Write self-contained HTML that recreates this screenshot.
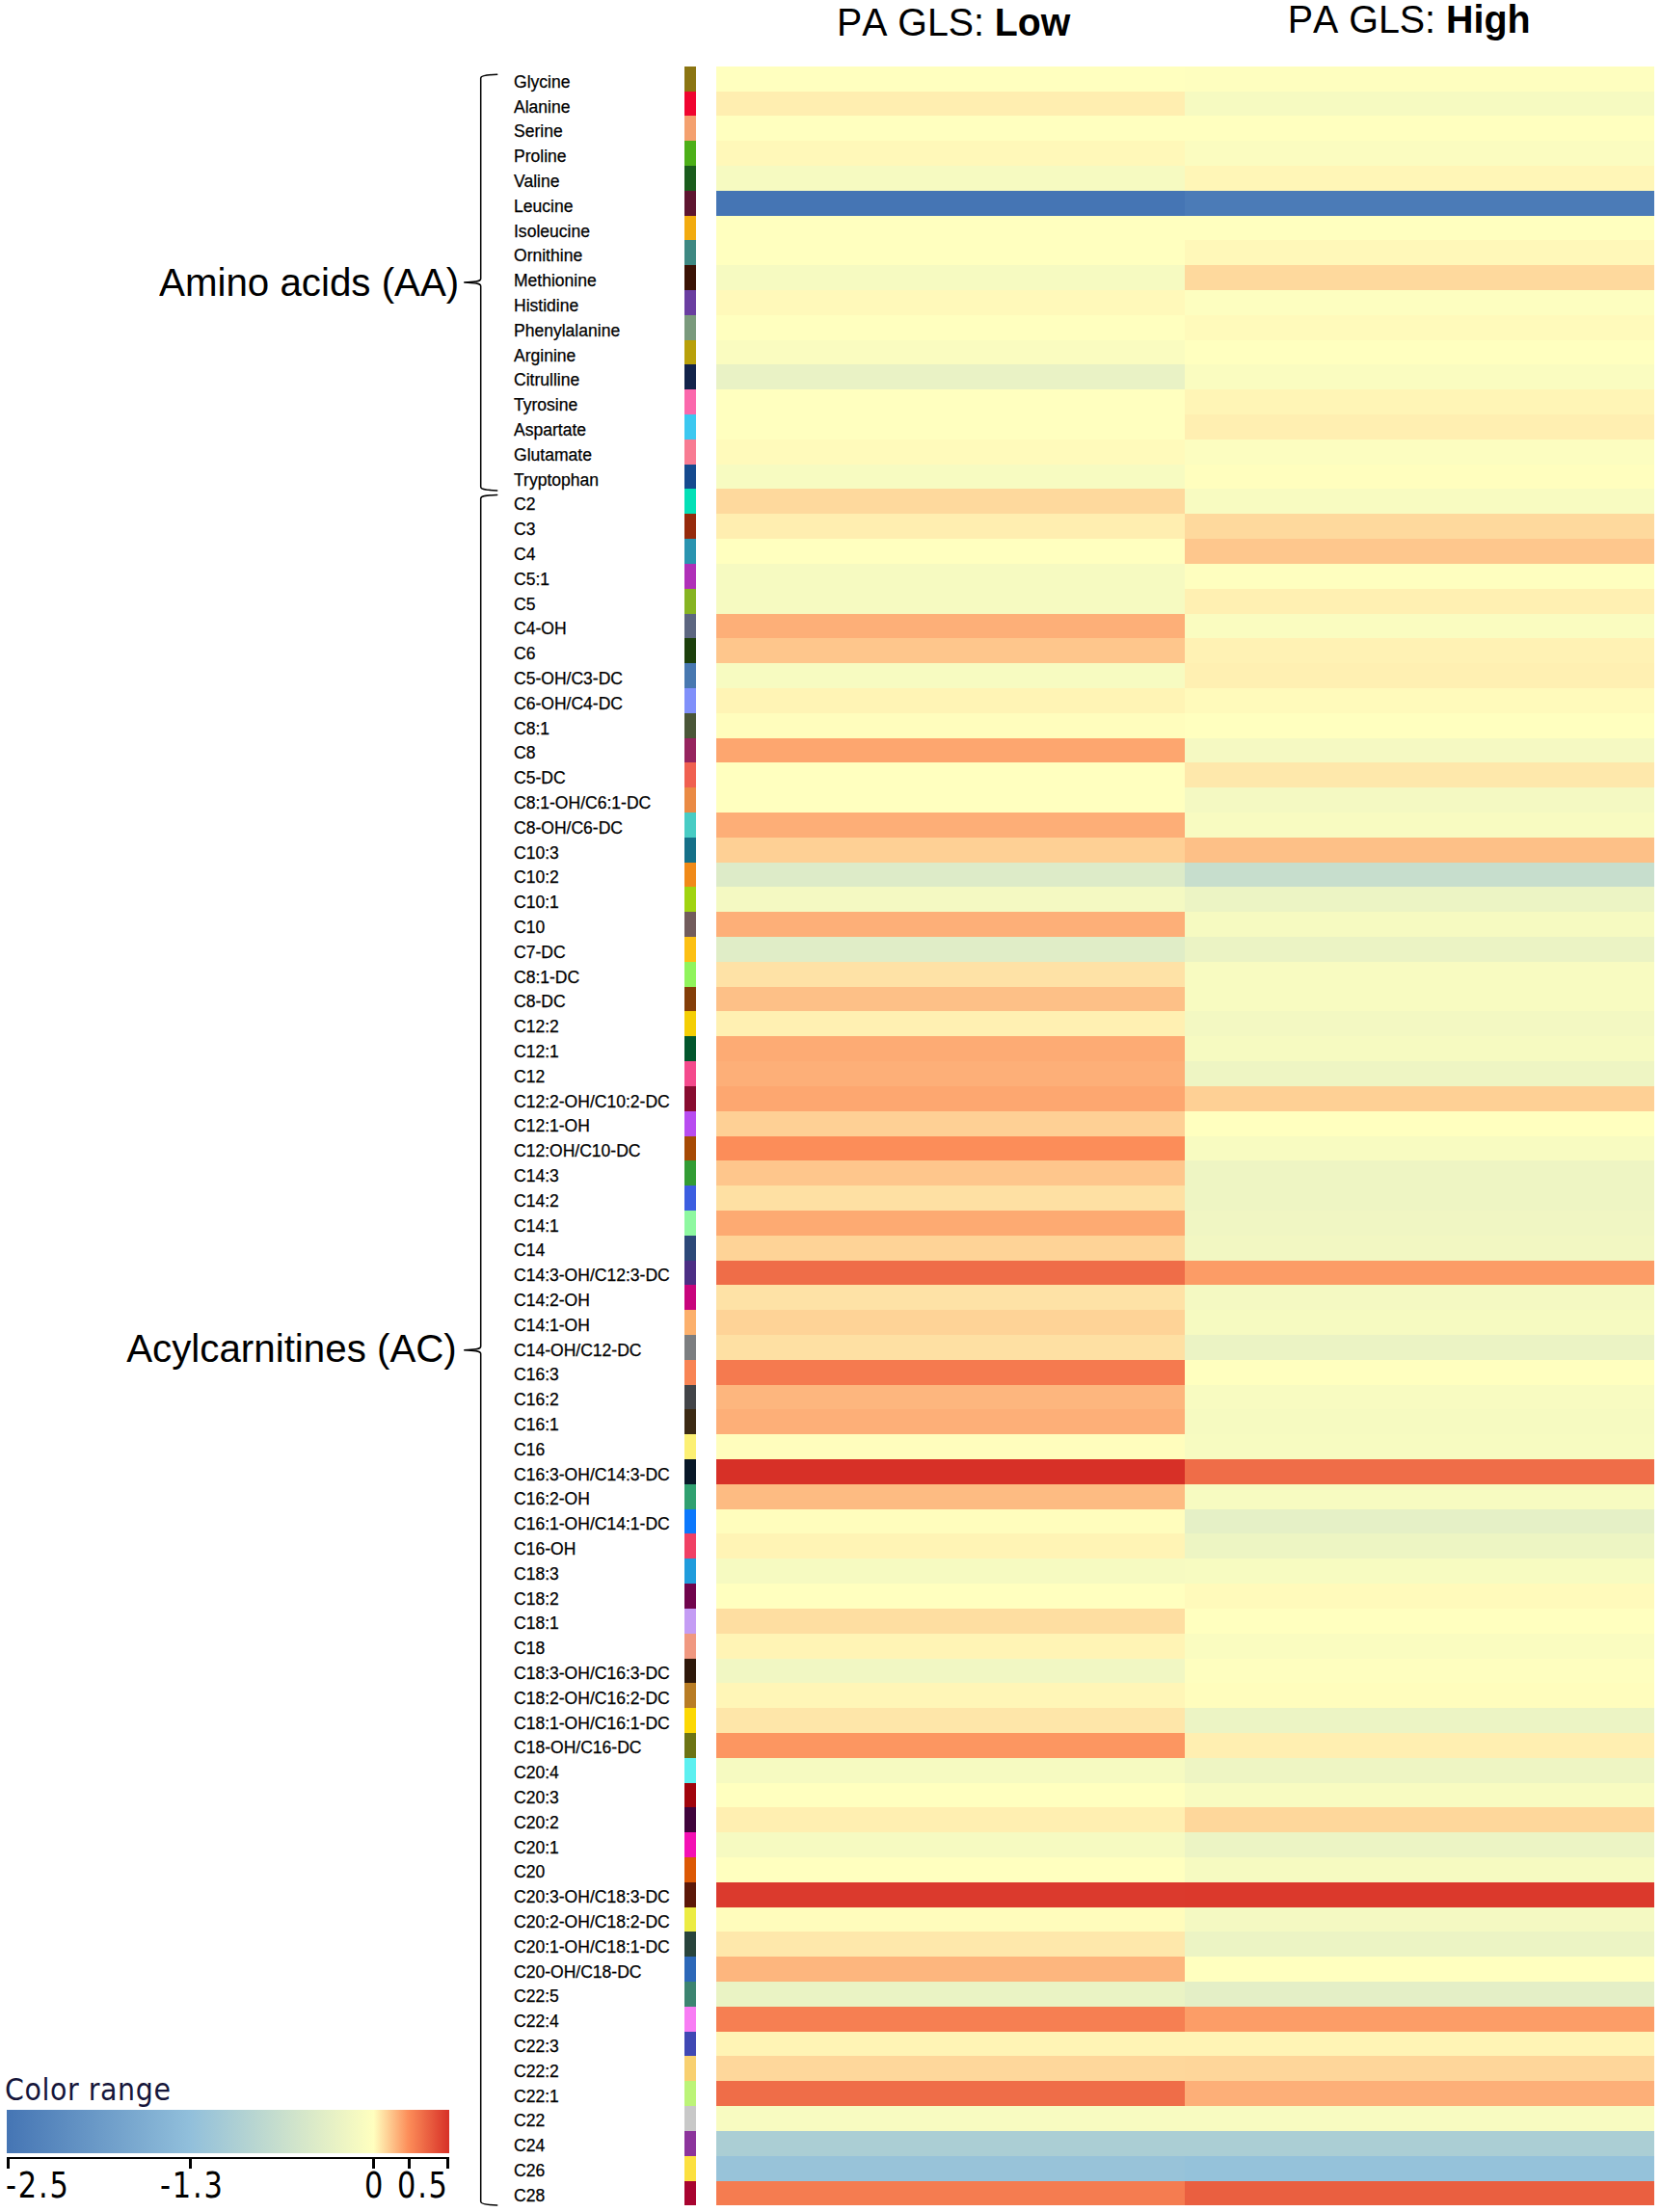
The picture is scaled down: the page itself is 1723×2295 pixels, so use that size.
<!DOCTYPE html>
<html><head><meta charset="utf-8"><title>Heatmap</title>
<style>
html,body{margin:0;padding:0;background:#fff;}
body{width:1723px;height:2295px;position:relative;overflow:hidden;font-family:"Liberation Sans",sans-serif;color:#000;}
.a{position:absolute;}
.c{position:absolute;}
.l{position:absolute;left:533px;font-size:17.55px;line-height:20px;height:20px;white-space:nowrap;-webkit-text-stroke:0.25px #000;}
.t{position:absolute;white-space:nowrap;}
</style></head><body>

<div class="c" style="left:710px;top:69px;width:12px;height:26px;background:#8b7512"></div>
<div class="c" style="left:743px;top:69px;width:486px;height:26px;background:#ffffbf"></div>
<div class="c" style="left:1229px;top:69px;width:487px;height:26px;background:#fefebf"></div>
<div class="l" style="top:74.72px">Glycine</div>
<div class="c" style="left:710px;top:95px;width:12px;height:25px;background:#f00530"></div>
<div class="c" style="left:743px;top:95px;width:486px;height:25px;background:#ffeeb0"></div>
<div class="c" style="left:1229px;top:95px;width:487px;height:25px;background:#f6fac1"></div>
<div class="l" style="top:100.52px">Alanine</div>
<div class="c" style="left:710px;top:120px;width:12px;height:26px;background:#f4a06e"></div>
<div class="c" style="left:743px;top:120px;width:486px;height:26px;background:#ffffbf"></div>
<div class="c" style="left:1229px;top:120px;width:487px;height:26px;background:#ffffbf"></div>
<div class="l" style="top:126.32px">Serine</div>
<div class="c" style="left:710px;top:146px;width:12px;height:26px;background:#4caf18"></div>
<div class="c" style="left:743px;top:146px;width:486px;height:26px;background:#fff8b9"></div>
<div class="c" style="left:1229px;top:146px;width:487px;height:26px;background:#fbfcc0"></div>
<div class="l" style="top:152.12px">Proline</div>
<div class="c" style="left:710px;top:172px;width:12px;height:26px;background:#1a5c1c"></div>
<div class="c" style="left:743px;top:172px;width:486px;height:26px;background:#f6fac1"></div>
<div class="c" style="left:1229px;top:172px;width:487px;height:26px;background:#fff6b7"></div>
<div class="l" style="top:177.92px">Valine</div>
<div class="c" style="left:710px;top:198px;width:12px;height:26px;background:#5e1530"></div>
<div class="c" style="left:743px;top:198px;width:486px;height:26px;background:#4575b4"></div>
<div class="c" style="left:1229px;top:198px;width:487px;height:26px;background:#4b7bb7"></div>
<div class="l" style="top:203.72px">Leucine</div>
<div class="c" style="left:710px;top:224px;width:12px;height:25px;background:#f2ab0f"></div>
<div class="c" style="left:743px;top:224px;width:486px;height:25px;background:#ffffbf"></div>
<div class="c" style="left:1229px;top:224px;width:487px;height:25px;background:#ffffbf"></div>
<div class="l" style="top:229.52px">Isoleucine</div>
<div class="c" style="left:710px;top:249px;width:12px;height:26px;background:#3e8882"></div>
<div class="c" style="left:743px;top:249px;width:486px;height:26px;background:#ffffbf"></div>
<div class="c" style="left:1229px;top:249px;width:487px;height:26px;background:#fff8b9"></div>
<div class="l" style="top:255.32px">Ornithine</div>
<div class="c" style="left:710px;top:275px;width:12px;height:26px;background:#3a1205"></div>
<div class="c" style="left:743px;top:275px;width:486px;height:26px;background:#f6fac1"></div>
<div class="c" style="left:1229px;top:275px;width:487px;height:26px;background:#fed99d"></div>
<div class="l" style="top:281.12px">Methionine</div>
<div class="c" style="left:710px;top:301px;width:12px;height:26px;background:#6a3ea0"></div>
<div class="c" style="left:743px;top:301px;width:486px;height:26px;background:#fff9ba"></div>
<div class="c" style="left:1229px;top:301px;width:487px;height:26px;background:#fdfec0"></div>
<div class="l" style="top:306.92px">Histidine</div>
<div class="c" style="left:710px;top:327px;width:12px;height:26px;background:#7a9a7c"></div>
<div class="c" style="left:743px;top:327px;width:486px;height:26px;background:#ffffbf"></div>
<div class="c" style="left:1229px;top:327px;width:487px;height:26px;background:#fffabb"></div>
<div class="l" style="top:332.72px">Phenylalanine</div>
<div class="c" style="left:710px;top:353px;width:12px;height:25px;background:#b8a00a"></div>
<div class="c" style="left:743px;top:353px;width:486px;height:25px;background:#fafcc0"></div>
<div class="c" style="left:1229px;top:353px;width:487px;height:25px;background:#ffffbf"></div>
<div class="l" style="top:358.52px">Arginine</div>
<div class="c" style="left:710px;top:378px;width:12px;height:26px;background:#12234a"></div>
<div class="c" style="left:743px;top:378px;width:486px;height:26px;background:#e9f2c5"></div>
<div class="c" style="left:1229px;top:378px;width:487px;height:26px;background:#fafcc0"></div>
<div class="l" style="top:384.32px">Citrulline</div>
<div class="c" style="left:710px;top:404px;width:12px;height:26px;background:#fb68ac"></div>
<div class="c" style="left:743px;top:404px;width:486px;height:26px;background:#ffffbf"></div>
<div class="c" style="left:1229px;top:404px;width:487px;height:26px;background:#fff5b6"></div>
<div class="l" style="top:410.12px">Tyrosine</div>
<div class="c" style="left:710px;top:430px;width:12px;height:26px;background:#3cc8f0"></div>
<div class="c" style="left:743px;top:430px;width:486px;height:26px;background:#ffffbf"></div>
<div class="c" style="left:1229px;top:430px;width:487px;height:26px;background:#ffefb1"></div>
<div class="l" style="top:435.92px">Aspartate</div>
<div class="c" style="left:710px;top:456px;width:12px;height:26px;background:#f87b92"></div>
<div class="c" style="left:743px;top:456px;width:486px;height:26px;background:#fffabb"></div>
<div class="c" style="left:1229px;top:456px;width:487px;height:26px;background:#fcfdc0"></div>
<div class="l" style="top:461.72px">Glutamate</div>
<div class="c" style="left:710px;top:482px;width:12px;height:25px;background:#154a8e"></div>
<div class="c" style="left:743px;top:482px;width:486px;height:25px;background:#f7fbc1"></div>
<div class="c" style="left:1229px;top:482px;width:487px;height:25px;background:#fffebe"></div>
<div class="l" style="top:487.52px">Tryptophan</div>
<div class="c" style="left:710px;top:507px;width:12px;height:26px;background:#04e0b6"></div>
<div class="c" style="left:743px;top:507px;width:486px;height:26px;background:#fed99d"></div>
<div class="c" style="left:1229px;top:507px;width:487px;height:26px;background:#f8fbc1"></div>
<div class="l" style="top:513.32px">C2</div>
<div class="c" style="left:710px;top:533px;width:12px;height:26px;background:#962a0c"></div>
<div class="c" style="left:743px;top:533px;width:486px;height:26px;background:#ffeeb0"></div>
<div class="c" style="left:1229px;top:533px;width:487px;height:26px;background:#fed99d"></div>
<div class="l" style="top:539.12px">C3</div>
<div class="c" style="left:710px;top:559px;width:12px;height:26px;background:#2a94b0"></div>
<div class="c" style="left:743px;top:559px;width:486px;height:26px;background:#ffffbf"></div>
<div class="c" style="left:1229px;top:559px;width:487px;height:26px;background:#fec78d"></div>
<div class="l" style="top:564.92px">C4</div>
<div class="c" style="left:710px;top:585px;width:12px;height:26px;background:#b030b8"></div>
<div class="c" style="left:743px;top:585px;width:486px;height:26px;background:#f6fac1"></div>
<div class="c" style="left:1229px;top:585px;width:487px;height:26px;background:#fefebf"></div>
<div class="l" style="top:590.72px">C5:1</div>
<div class="c" style="left:710px;top:611px;width:12px;height:26px;background:#86b422"></div>
<div class="c" style="left:743px;top:611px;width:486px;height:26px;background:#f6fac1"></div>
<div class="c" style="left:1229px;top:611px;width:487px;height:26px;background:#fff0b2"></div>
<div class="l" style="top:616.52px">C5</div>
<div class="c" style="left:710px;top:637px;width:12px;height:25px;background:#5c6680"></div>
<div class="c" style="left:743px;top:637px;width:486px;height:25px;background:#fdaf78"></div>
<div class="c" style="left:1229px;top:637px;width:487px;height:25px;background:#fafcc0"></div>
<div class="l" style="top:642.32px">C4-OH</div>
<div class="c" style="left:710px;top:662px;width:12px;height:26px;background:#1c400c"></div>
<div class="c" style="left:743px;top:662px;width:486px;height:26px;background:#fec68c"></div>
<div class="c" style="left:1229px;top:662px;width:487px;height:26px;background:#fff2b4"></div>
<div class="l" style="top:668.12px">C6</div>
<div class="c" style="left:710px;top:688px;width:12px;height:26px;background:#4878b0"></div>
<div class="c" style="left:743px;top:688px;width:486px;height:26px;background:#f7fbc1"></div>
<div class="c" style="left:1229px;top:688px;width:487px;height:26px;background:#fff0b2"></div>
<div class="l" style="top:693.92px">C5-OH/C3-DC</div>
<div class="c" style="left:710px;top:714px;width:12px;height:26px;background:#8090fa"></div>
<div class="c" style="left:743px;top:714px;width:486px;height:26px;background:#fff4b5"></div>
<div class="c" style="left:1229px;top:714px;width:487px;height:26px;background:#fffabb"></div>
<div class="l" style="top:719.72px">C6-OH/C4-DC</div>
<div class="c" style="left:710px;top:740px;width:12px;height:26px;background:#4a5638"></div>
<div class="c" style="left:743px;top:740px;width:486px;height:26px;background:#fffdbd"></div>
<div class="c" style="left:1229px;top:740px;width:487px;height:26px;background:#ffffbf"></div>
<div class="l" style="top:745.52px">C8:1</div>
<div class="c" style="left:710px;top:766px;width:12px;height:25px;background:#96245e"></div>
<div class="c" style="left:743px;top:766px;width:486px;height:25px;background:#fda66f"></div>
<div class="c" style="left:1229px;top:766px;width:487px;height:25px;background:#f5f9c2"></div>
<div class="l" style="top:771.32px">C8</div>
<div class="c" style="left:710px;top:791px;width:12px;height:26px;background:#f06050"></div>
<div class="c" style="left:743px;top:791px;width:486px;height:26px;background:#ffffbf"></div>
<div class="c" style="left:1229px;top:791px;width:487px;height:26px;background:#fee8ab"></div>
<div class="l" style="top:797.12px">C5-DC</div>
<div class="c" style="left:710px;top:817px;width:12px;height:26px;background:#ea8a44"></div>
<div class="c" style="left:743px;top:817px;width:486px;height:26px;background:#ffffbf"></div>
<div class="c" style="left:1229px;top:817px;width:487px;height:26px;background:#f4f9c2"></div>
<div class="l" style="top:822.92px">C8:1-OH/C6:1-DC</div>
<div class="c" style="left:710px;top:843px;width:12px;height:26px;background:#48ccc4"></div>
<div class="c" style="left:743px;top:843px;width:486px;height:26px;background:#fdae77"></div>
<div class="c" style="left:1229px;top:843px;width:487px;height:26px;background:#f8fbc1"></div>
<div class="l" style="top:848.72px">C8-OH/C6-DC</div>
<div class="c" style="left:710px;top:869px;width:12px;height:26px;background:#157088"></div>
<div class="c" style="left:743px;top:869px;width:486px;height:26px;background:#fed095"></div>
<div class="c" style="left:1229px;top:869px;width:487px;height:26px;background:#fdc087"></div>
<div class="l" style="top:874.52px">C10:3</div>
<div class="c" style="left:710px;top:895px;width:12px;height:25px;background:#f08a18"></div>
<div class="c" style="left:743px;top:895px;width:486px;height:25px;background:#ddebc8"></div>
<div class="c" style="left:1229px;top:895px;width:487px;height:25px;background:#c7decd"></div>
<div class="l" style="top:900.32px">C10:2</div>
<div class="c" style="left:710px;top:920px;width:12px;height:26px;background:#a0d410"></div>
<div class="c" style="left:743px;top:920px;width:486px;height:26px;background:#f4f9c2"></div>
<div class="c" style="left:1229px;top:920px;width:487px;height:26px;background:#ecf4c4"></div>
<div class="l" style="top:926.12px">C10:1</div>
<div class="c" style="left:710px;top:946px;width:12px;height:26px;background:#725c5c"></div>
<div class="c" style="left:743px;top:946px;width:486px;height:26px;background:#fdaf78"></div>
<div class="c" style="left:1229px;top:946px;width:487px;height:26px;background:#f6fac1"></div>
<div class="l" style="top:951.92px">C10</div>
<div class="c" style="left:710px;top:972px;width:12px;height:26px;background:#fcc014"></div>
<div class="c" style="left:743px;top:972px;width:486px;height:26px;background:#e0edc7"></div>
<div class="c" style="left:1229px;top:972px;width:487px;height:26px;background:#ebf3c4"></div>
<div class="l" style="top:977.72px">C7-DC</div>
<div class="c" style="left:710px;top:998px;width:12px;height:26px;background:#90f45c"></div>
<div class="c" style="left:743px;top:998px;width:486px;height:26px;background:#fee2a6"></div>
<div class="c" style="left:1229px;top:998px;width:487px;height:26px;background:#f8fbc1"></div>
<div class="l" style="top:1003.52px">C8:1-DC</div>
<div class="c" style="left:710px;top:1024px;width:12px;height:25px;background:#843e08"></div>
<div class="c" style="left:743px;top:1024px;width:486px;height:25px;background:#fdc087"></div>
<div class="c" style="left:1229px;top:1024px;width:487px;height:25px;background:#f8fbc1"></div>
<div class="l" style="top:1029.32px">C8-DC</div>
<div class="c" style="left:710px;top:1049px;width:12px;height:26px;background:#f4ce04"></div>
<div class="c" style="left:743px;top:1049px;width:486px;height:26px;background:#fff0b2"></div>
<div class="c" style="left:1229px;top:1049px;width:487px;height:26px;background:#f3f8c2"></div>
<div class="l" style="top:1055.12px">C12:2</div>
<div class="c" style="left:710px;top:1075px;width:12px;height:26px;background:#02562c"></div>
<div class="c" style="left:743px;top:1075px;width:486px;height:26px;background:#fdab74"></div>
<div class="c" style="left:1229px;top:1075px;width:487px;height:26px;background:#f6fac1"></div>
<div class="l" style="top:1080.92px">C12:1</div>
<div class="c" style="left:710px;top:1101px;width:12px;height:26px;background:#f44a8c"></div>
<div class="c" style="left:743px;top:1101px;width:486px;height:26px;background:#fdaf78"></div>
<div class="c" style="left:1229px;top:1101px;width:487px;height:26px;background:#eef5c3"></div>
<div class="l" style="top:1106.72px">C12</div>
<div class="c" style="left:710px;top:1127px;width:12px;height:26px;background:#880c30"></div>
<div class="c" style="left:743px;top:1127px;width:486px;height:26px;background:#fda770"></div>
<div class="c" style="left:1229px;top:1127px;width:487px;height:26px;background:#fed095"></div>
<div class="l" style="top:1132.52px">C12:2-OH/C10:2-DC</div>
<div class="c" style="left:710px;top:1153px;width:12px;height:26px;background:#b84cf0"></div>
<div class="c" style="left:743px;top:1153px;width:486px;height:26px;background:#fed095"></div>
<div class="c" style="left:1229px;top:1153px;width:487px;height:26px;background:#ffffbf"></div>
<div class="l" style="top:1158.32px">C12:1-OH</div>
<div class="c" style="left:710px;top:1179px;width:12px;height:25px;background:#a64a04"></div>
<div class="c" style="left:743px;top:1179px;width:486px;height:25px;background:#fc8d59"></div>
<div class="c" style="left:1229px;top:1179px;width:487px;height:25px;background:#f8fbc1"></div>
<div class="l" style="top:1184.12px">C12:OH/C10-DC</div>
<div class="c" style="left:710px;top:1204px;width:12px;height:26px;background:#329c34"></div>
<div class="c" style="left:743px;top:1204px;width:486px;height:26px;background:#fec68c"></div>
<div class="c" style="left:1229px;top:1204px;width:487px;height:26px;background:#eef5c3"></div>
<div class="l" style="top:1209.92px">C14:3</div>
<div class="c" style="left:710px;top:1230px;width:12px;height:26px;background:#3c5ee0"></div>
<div class="c" style="left:743px;top:1230px;width:486px;height:26px;background:#fee0a3"></div>
<div class="c" style="left:1229px;top:1230px;width:487px;height:26px;background:#eef5c3"></div>
<div class="l" style="top:1235.72px">C14:2</div>
<div class="c" style="left:710px;top:1256px;width:12px;height:26px;background:#8ef8a0"></div>
<div class="c" style="left:743px;top:1256px;width:486px;height:26px;background:#fdaa72"></div>
<div class="c" style="left:1229px;top:1256px;width:487px;height:26px;background:#f0f6c3"></div>
<div class="l" style="top:1261.52px">C14:1</div>
<div class="c" style="left:710px;top:1282px;width:12px;height:26px;background:#2c4878"></div>
<div class="c" style="left:743px;top:1282px;width:486px;height:26px;background:#fed397"></div>
<div class="c" style="left:1229px;top:1282px;width:487px;height:26px;background:#f2f7c2"></div>
<div class="l" style="top:1287.32px">C14</div>
<div class="c" style="left:710px;top:1308px;width:12px;height:25px;background:#4c2e84"></div>
<div class="c" style="left:743px;top:1308px;width:486px;height:25px;background:#ef6d48"></div>
<div class="c" style="left:1229px;top:1308px;width:487px;height:25px;background:#fc9c66"></div>
<div class="l" style="top:1313.12px">C14:3-OH/C12:3-DC</div>
<div class="c" style="left:710px;top:1333px;width:12px;height:26px;background:#c8047c"></div>
<div class="c" style="left:743px;top:1333px;width:486px;height:26px;background:#fee2a6"></div>
<div class="c" style="left:1229px;top:1333px;width:487px;height:26px;background:#f4f9c2"></div>
<div class="l" style="top:1338.92px">C14:2-OH</div>
<div class="c" style="left:710px;top:1359px;width:12px;height:26px;background:#fcb06c"></div>
<div class="c" style="left:743px;top:1359px;width:486px;height:26px;background:#fed397"></div>
<div class="c" style="left:1229px;top:1359px;width:487px;height:26px;background:#f6fac1"></div>
<div class="l" style="top:1364.72px">C14:1-OH</div>
<div class="c" style="left:710px;top:1385px;width:12px;height:26px;background:#7c7e80"></div>
<div class="c" style="left:743px;top:1385px;width:486px;height:26px;background:#fee0a3"></div>
<div class="c" style="left:1229px;top:1385px;width:487px;height:26px;background:#ebf3c4"></div>
<div class="l" style="top:1390.52px">C14-OH/C12-DC</div>
<div class="c" style="left:710px;top:1411px;width:12px;height:26px;background:#f88454"></div>
<div class="c" style="left:743px;top:1411px;width:486px;height:26px;background:#f57a4f"></div>
<div class="c" style="left:1229px;top:1411px;width:487px;height:26px;background:#ffffbf"></div>
<div class="l" style="top:1416.32px">C16:3</div>
<div class="c" style="left:710px;top:1437px;width:12px;height:25px;background:#424448"></div>
<div class="c" style="left:743px;top:1437px;width:486px;height:25px;background:#fdb67e"></div>
<div class="c" style="left:1229px;top:1437px;width:487px;height:25px;background:#f8fbc1"></div>
<div class="l" style="top:1442.12px">C16:2</div>
<div class="c" style="left:710px;top:1462px;width:12px;height:26px;background:#3c2a14"></div>
<div class="c" style="left:743px;top:1462px;width:486px;height:26px;background:#fdaf78"></div>
<div class="c" style="left:1229px;top:1462px;width:487px;height:26px;background:#f6fac1"></div>
<div class="l" style="top:1467.92px">C16:1</div>
<div class="c" style="left:710px;top:1488px;width:12px;height:26px;background:#fcf074"></div>
<div class="c" style="left:743px;top:1488px;width:486px;height:26px;background:#fffdbd"></div>
<div class="c" style="left:1229px;top:1488px;width:487px;height:26px;background:#f7fbc1"></div>
<div class="l" style="top:1493.72px">C16</div>
<div class="c" style="left:710px;top:1514px;width:12px;height:26px;background:#081828"></div>
<div class="c" style="left:743px;top:1514px;width:486px;height:26px;background:#d73027"></div>
<div class="c" style="left:1229px;top:1514px;width:487px;height:26px;background:#ef6d48"></div>
<div class="l" style="top:1519.52px">C16:3-OH/C14:3-DC</div>
<div class="c" style="left:710px;top:1540px;width:12px;height:26px;background:#30a070"></div>
<div class="c" style="left:743px;top:1540px;width:486px;height:26px;background:#fdbb82"></div>
<div class="c" style="left:1229px;top:1540px;width:487px;height:26px;background:#f7fbc1"></div>
<div class="l" style="top:1545.32px">C16:2-OH</div>
<div class="c" style="left:710px;top:1566px;width:12px;height:25px;background:#0c78fc"></div>
<div class="c" style="left:743px;top:1566px;width:486px;height:25px;background:#fffdbd"></div>
<div class="c" style="left:1229px;top:1566px;width:487px;height:25px;background:#e5f0c6"></div>
<div class="l" style="top:1571.12px">C16:1-OH/C14:1-DC</div>
<div class="c" style="left:710px;top:1591px;width:12px;height:26px;background:#f04064"></div>
<div class="c" style="left:743px;top:1591px;width:486px;height:26px;background:#fff4b5"></div>
<div class="c" style="left:1229px;top:1591px;width:487px;height:26px;background:#edf5c3"></div>
<div class="l" style="top:1596.92px">C16-OH</div>
<div class="c" style="left:710px;top:1617px;width:12px;height:26px;background:#209cdc"></div>
<div class="c" style="left:743px;top:1617px;width:486px;height:26px;background:#f6fac1"></div>
<div class="c" style="left:1229px;top:1617px;width:487px;height:26px;background:#f7fbc1"></div>
<div class="l" style="top:1622.72px">C18:3</div>
<div class="c" style="left:710px;top:1643px;width:12px;height:26px;background:#70044c"></div>
<div class="c" style="left:743px;top:1643px;width:486px;height:26px;background:#ffffbf"></div>
<div class="c" style="left:1229px;top:1643px;width:487px;height:26px;background:#fffabb"></div>
<div class="l" style="top:1648.52px">C18:2</div>
<div class="c" style="left:710px;top:1669px;width:12px;height:26px;background:#c49cf4"></div>
<div class="c" style="left:743px;top:1669px;width:486px;height:26px;background:#fedea1"></div>
<div class="c" style="left:1229px;top:1669px;width:487px;height:26px;background:#ffffbf"></div>
<div class="l" style="top:1674.32px">C18:1</div>
<div class="c" style="left:710px;top:1695px;width:12px;height:26px;background:#f09880"></div>
<div class="c" style="left:743px;top:1695px;width:486px;height:26px;background:#fff4b5"></div>
<div class="c" style="left:1229px;top:1695px;width:487px;height:26px;background:#fafcc0"></div>
<div class="l" style="top:1700.12px">C18</div>
<div class="c" style="left:710px;top:1721px;width:12px;height:25px;background:#2e180a"></div>
<div class="c" style="left:743px;top:1721px;width:486px;height:25px;background:#f1f7c3"></div>
<div class="c" style="left:1229px;top:1721px;width:487px;height:25px;background:#fefebf"></div>
<div class="l" style="top:1725.92px">C18:3-OH/C16:3-DC</div>
<div class="c" style="left:710px;top:1746px;width:12px;height:26px;background:#b87c24"></div>
<div class="c" style="left:743px;top:1746px;width:486px;height:26px;background:#fff6b7"></div>
<div class="c" style="left:1229px;top:1746px;width:487px;height:26px;background:#fffdbd"></div>
<div class="l" style="top:1751.72px">C18:2-OH/C16:2-DC</div>
<div class="c" style="left:710px;top:1772px;width:12px;height:26px;background:#fcd804"></div>
<div class="c" style="left:743px;top:1772px;width:486px;height:26px;background:#fee6a9"></div>
<div class="c" style="left:1229px;top:1772px;width:487px;height:26px;background:#ecf4c4"></div>
<div class="l" style="top:1777.52px">C18:1-OH/C16:1-DC</div>
<div class="c" style="left:710px;top:1798px;width:12px;height:26px;background:#6c7414"></div>
<div class="c" style="left:743px;top:1798px;width:486px;height:26px;background:#fc9661"></div>
<div class="c" style="left:1229px;top:1798px;width:487px;height:26px;background:#ffefb1"></div>
<div class="l" style="top:1803.32px">C18-OH/C16-DC</div>
<div class="c" style="left:710px;top:1824px;width:12px;height:26px;background:#5cf0f0"></div>
<div class="c" style="left:743px;top:1824px;width:486px;height:26px;background:#f6fac1"></div>
<div class="c" style="left:1229px;top:1824px;width:487px;height:26px;background:#eef5c3"></div>
<div class="l" style="top:1829.12px">C20:4</div>
<div class="c" style="left:710px;top:1850px;width:12px;height:25px;background:#a0040c"></div>
<div class="c" style="left:743px;top:1850px;width:486px;height:25px;background:#ffffbf"></div>
<div class="c" style="left:1229px;top:1850px;width:487px;height:25px;background:#f8fbc1"></div>
<div class="l" style="top:1854.92px">C20:3</div>
<div class="c" style="left:710px;top:1875px;width:12px;height:26px;background:#40043c"></div>
<div class="c" style="left:743px;top:1875px;width:486px;height:26px;background:#ffefb1"></div>
<div class="c" style="left:1229px;top:1875px;width:487px;height:26px;background:#fed79b"></div>
<div class="l" style="top:1880.72px">C20:2</div>
<div class="c" style="left:710px;top:1901px;width:12px;height:26px;background:#f410b4"></div>
<div class="c" style="left:743px;top:1901px;width:486px;height:26px;background:#f6fac1"></div>
<div class="c" style="left:1229px;top:1901px;width:487px;height:26px;background:#ecf4c4"></div>
<div class="l" style="top:1906.52px">C20:1</div>
<div class="c" style="left:710px;top:1927px;width:12px;height:26px;background:#dc5804"></div>
<div class="c" style="left:743px;top:1927px;width:486px;height:26px;background:#ffffbf"></div>
<div class="c" style="left:1229px;top:1927px;width:487px;height:26px;background:#f6fac1"></div>
<div class="l" style="top:1932.32px">C20</div>
<div class="c" style="left:710px;top:1953px;width:12px;height:26px;background:#5c1808"></div>
<div class="c" style="left:743px;top:1953px;width:486px;height:26px;background:#db3a2d"></div>
<div class="c" style="left:1229px;top:1953px;width:487px;height:26px;background:#db392c"></div>
<div class="l" style="top:1958.12px">C20:3-OH/C18:3-DC</div>
<div class="c" style="left:710px;top:1979px;width:12px;height:25px;background:#ecec44"></div>
<div class="c" style="left:743px;top:1979px;width:486px;height:25px;background:#fffcbc"></div>
<div class="c" style="left:1229px;top:1979px;width:487px;height:25px;background:#f4f9c2"></div>
<div class="l" style="top:1983.92px">C20:2-OH/C18:2-DC</div>
<div class="c" style="left:710px;top:2004px;width:12px;height:26px;background:#28443c"></div>
<div class="c" style="left:743px;top:2004px;width:486px;height:26px;background:#fee8ab"></div>
<div class="c" style="left:1229px;top:2004px;width:487px;height:26px;background:#ecf4c4"></div>
<div class="l" style="top:2009.72px">C20:1-OH/C18:1-DC</div>
<div class="c" style="left:710px;top:2030px;width:12px;height:26px;background:#2c68b8"></div>
<div class="c" style="left:743px;top:2030px;width:486px;height:26px;background:#fdb67e"></div>
<div class="c" style="left:1229px;top:2030px;width:487px;height:26px;background:#ffffbf"></div>
<div class="l" style="top:2035.52px">C20-OH/C18-DC</div>
<div class="c" style="left:710px;top:2056px;width:12px;height:26px;background:#3c8470"></div>
<div class="c" style="left:743px;top:2056px;width:486px;height:26px;background:#eaf3c4"></div>
<div class="c" style="left:1229px;top:2056px;width:487px;height:26px;background:#e4efc6"></div>
<div class="l" style="top:2061.32px">C22:5</div>
<div class="c" style="left:710px;top:2082px;width:12px;height:26px;background:#f87cf4"></div>
<div class="c" style="left:743px;top:2082px;width:486px;height:26px;background:#f67f52"></div>
<div class="c" style="left:1229px;top:2082px;width:487px;height:26px;background:#fc9d67"></div>
<div class="l" style="top:2087.12px">C22:4</div>
<div class="c" style="left:710px;top:2108px;width:12px;height:25px;background:#4048b4"></div>
<div class="c" style="left:743px;top:2108px;width:486px;height:25px;background:#fff4b5"></div>
<div class="c" style="left:1229px;top:2108px;width:487px;height:25px;background:#fff4b5"></div>
<div class="l" style="top:2112.92px">C22:3</div>
<div class="c" style="left:710px;top:2133px;width:12px;height:26px;background:#f8d070"></div>
<div class="c" style="left:743px;top:2133px;width:486px;height:26px;background:#fed79b"></div>
<div class="c" style="left:1229px;top:2133px;width:487px;height:26px;background:#fed69a"></div>
<div class="l" style="top:2138.72px">C22:2</div>
<div class="c" style="left:710px;top:2159px;width:12px;height:26px;background:#bcf478"></div>
<div class="c" style="left:743px;top:2159px;width:486px;height:26px;background:#ef6d48"></div>
<div class="c" style="left:1229px;top:2159px;width:487px;height:26px;background:#fdaf78"></div>
<div class="l" style="top:2164.52px">C22:1</div>
<div class="c" style="left:710px;top:2185px;width:12px;height:26px;background:#c8c8c8"></div>
<div class="c" style="left:743px;top:2185px;width:486px;height:26px;background:#f8fbc1"></div>
<div class="c" style="left:1229px;top:2185px;width:487px;height:26px;background:#f8fbc1"></div>
<div class="l" style="top:2190.32px">C22</div>
<div class="c" style="left:710px;top:2211px;width:12px;height:26px;background:#8c349c"></div>
<div class="c" style="left:743px;top:2211px;width:486px;height:26px;background:#abced4"></div>
<div class="c" style="left:1229px;top:2211px;width:487px;height:26px;background:#abced4"></div>
<div class="l" style="top:2216.12px">C24</div>
<div class="c" style="left:710px;top:2237px;width:12px;height:26px;background:#fce040"></div>
<div class="c" style="left:743px;top:2237px;width:486px;height:26px;background:#98c3d9"></div>
<div class="c" style="left:1229px;top:2237px;width:487px;height:26px;background:#95c2da"></div>
<div class="l" style="top:2241.92px">C26</div>
<div class="c" style="left:710px;top:2263px;width:12px;height:25px;background:#a80430"></div>
<div class="c" style="left:743px;top:2263px;width:486px;height:25px;background:#f57c50"></div>
<div class="c" style="left:1229px;top:2263px;width:487px;height:25px;background:#ea5f40"></div>
<div class="l" style="top:2267.72px">C28</div>

<div class="t" style="left:868.00px;top:0.48px;font-size:39.30px;line-height:47px;font-kerning:none;transform:scaleY(1.04);transform-origin:0 37.12px;">PA GLS: <b>Low</b></div>
<div class="t" style="left:1335.80px;top:-3.45px;font-size:39.40px;line-height:47px;font-kerning:none;transform:scaleY(1.04);transform-origin:0 37.15px;">PA GLS: <b>High</b></div>
<div class="t" style="left:165.00px;top:270.04px;font-size:40.30px;line-height:48px;transform:scaleY(1.03);transform-origin:0 37.96px;">Amino acids (AA)</div>
<div class="t" style="left:131.20px;top:1375.94px;font-size:40.30px;line-height:48px;transform:scaleY(1.03);transform-origin:0 37.96px;">Acylcarnitines (AC)</div>
<svg class="a" style="left:0;top:0" width="1723" height="2295" viewBox="0 0 1723 2295">
<path d="M515.7,77.3 C506.7,77.5 498.9,78.0 498.7,80.9 L498.7,289.3 C498.7,292.1 493.2,292.6 481.2,293.1 C493.2,293.5 498.7,294.1 498.7,296.9 L498.7,505.3 C498.9,508.2 506.7,508.6 515.7,508.9" fill="none" stroke="#000" stroke-width="1.5" stroke-linecap="round"/>
<path d="M515.7,513.5 C506.7,513.8 498.9,514.2 498.7,517.1 L498.7,1396.9 C498.7,1399.7 493.2,1400.2 481.2,1400.7 C493.2,1401.2 498.7,1401.7 498.7,1404.5 L498.7,2284.3 C498.9,2287.2 506.7,2287.7 515.7,2287.9" fill="none" stroke="#000" stroke-width="1.5" stroke-linecap="round"/>
</svg>
<div class="t" style="left:5.00px;top:2147.57px;font-size:31.60px;line-height:41px;font-family:'DejaVu Sans Condensed','DejaVu Sans',sans-serif;color:#15153a;letter-spacing:0.6px;">Color range</div>
<div class="a" style="left:7px;top:2188.6px;width:459px;height:45.6px;background:linear-gradient(to right,#4575b4 0%,#91bfdb 41.3%,#ffffbf 82.9%,#fc8d59 90.8%,#d73027 100%)"></div>
<div class="a" style="left:7px;top:2237.5px;width:458.8px;height:2.85px;background:#000"></div>
<div class="a" style="left:6.9px;top:2238px;width:2.87px;height:11.5px;background:#000"></div>
<div class="a" style="left:196.3px;top:2238px;width:2.87px;height:11.5px;background:#000"></div>
<div class="a" style="left:386.2px;top:2238px;width:2.87px;height:11.5px;background:#000"></div>
<div class="a" style="left:423.1px;top:2238px;width:2.87px;height:11.5px;background:#000"></div>
<div class="a" style="left:462.9px;top:2238px;width:2.87px;height:11.5px;background:#000"></div>
<div class="t" style="left:5.65px;top:2242.69px;font-size:37.60px;line-height:49px;font-family:'DejaVu Sans Condensed','DejaVu Sans',sans-serif;transform:scaleX(0.9);transform-origin:0 0;letter-spacing:2px;">-2.5</div>
<div class="t" style="left:165.90px;top:2242.69px;font-size:37.60px;line-height:49px;font-family:'DejaVu Sans Condensed','DejaVu Sans',sans-serif;transform:scaleX(0.9);transform-origin:0 0;letter-spacing:2px;">-1.3</div>
<div class="t" style="left:378.10px;top:2242.69px;font-size:37.60px;line-height:49px;font-family:'DejaVu Sans Condensed','DejaVu Sans',sans-serif;transform:scaleX(0.9);transform-origin:0 0;letter-spacing:2px;">0</div>
<div class="t" style="left:411.90px;top:2242.69px;font-size:37.60px;line-height:49px;font-family:'DejaVu Sans Condensed','DejaVu Sans',sans-serif;transform:scaleX(0.9);transform-origin:0 0;letter-spacing:2px;">0.5</div>
</body></html>
